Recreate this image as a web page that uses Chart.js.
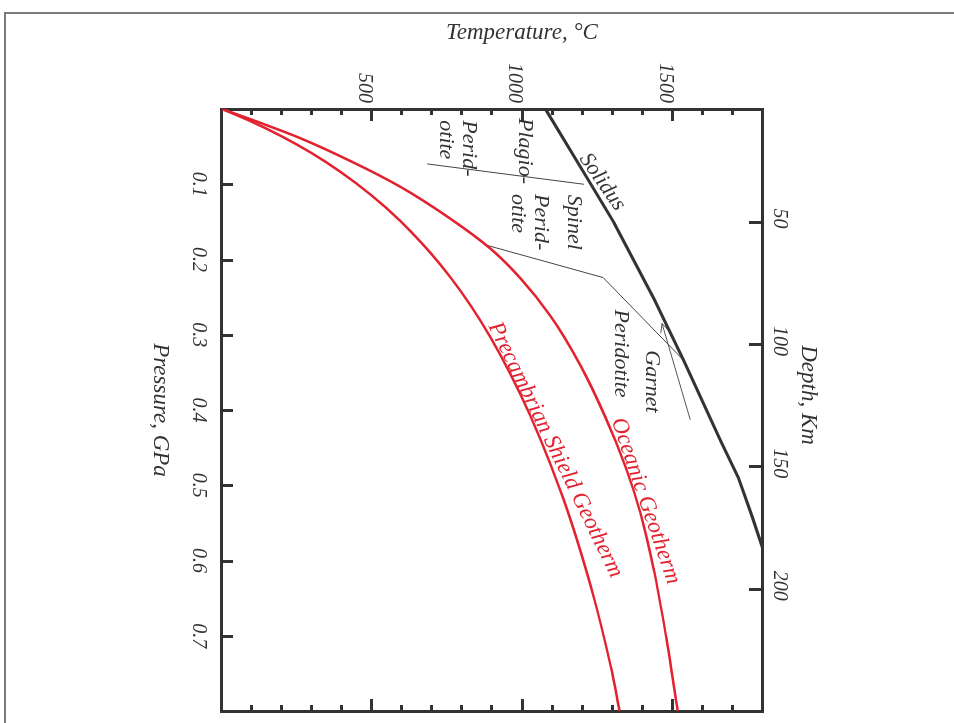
<!DOCTYPE html>
<html>
<head>
<meta charset="utf-8">
<script src="https://cdn.jsdelivr.net/npm/chart.js@4.4.1/dist/chart.umd.min.js"></script>
<style>
  html, body { margin: 0; padding: 0; background: #fff; overflow: hidden; }
  #page { position: relative; width: 954px; height: 723px; overflow: hidden; }
  #frame { position: absolute; left: 4px; top: 12px; width: 1000px; height: 1000px;
           border-left: 2px solid #7a7a7a; border-top: 2px solid #7a7a7a; }
  /* the figure is drawn upright and turned a quarter turn clockwise */
  #chart { position: absolute; left: 0; top: 0; transform-origin: 0 0;
           transform: translate(954px, 0) rotate(90deg); }
</style>
</head>
<body>
<div id="page">
  <div id="frame"></div>
  <canvas id="chart" width="723" height="954"></canvas>
</div>
<script>
// tick labels
const tempTicks = [500, 1000, 1500];
const pressureTicks = [0.1, 0.2, 0.3, 0.4, 0.5, 0.6, 0.7];
const depthTicks = [50, 100, 150, 200];

// curves: pressure (GPa) and temperature (C)
const oceanicP = [0, 0.0185, 0.0389, 0.0693, 0.1036, 0.1459, 0.1855, 0.2251, 0.2752, 0.3412,
                  0.4099, 0.4759, 0.5366, 0.6105, 0.6976, 0.800];
const oceanicT = [0, 128, 261, 428, 594, 760, 893, 993, 1093, 1193,
                  1276, 1343, 1392, 1436, 1476, 1516];

const shieldP = [0, 0.0162, 0.0356, 0.0578, 0.0836, 0.1137, 0.1492, 0.2070, 0.2814, 0.3791,
                 0.5072, 0.6330, 0.7400, 0.800];
const shieldT = [0, 95, 195, 295, 394, 494, 594, 727, 860, 993,
                 1126, 1226, 1293, 1323];

const solidusP = [0, 0.092, 0.151, 0.252, 0.334, 0.441, 0.490, 0.543, 0.585];
const solidusT = [1076, 1215, 1304, 1437, 1536, 1659, 1718, 1765, 1800];

// phase boundaries
const plagSpinelP = [0.073, 0.100];
const plagSpinelT = [683, 1204];
const spinelGarnetP = [0.181, 0.224, 0.334];
const spinelGarnetT = [880, 1268, 1536];
const arrowP = [0.413, 0.285];
const arrowT = [1558, 1464];
const arrowHeadP = [0.298, 0.285, 0.295];
const arrowHeadT = [1460, 1464, 1487];

const RED = '#e3222f';
const INK = '#333';
const SERIF = '"Liberation Serif", "DejaVu Serif", serif';

function pts(ps, ts) {
  return ps.map((p, i) => ({ x: p, y: ts[i] }));
}

function line(data, color, width, smooth) {
  return {
    data: data,
    showLine: true,
    borderColor: color,
    borderWidth: width,
    pointRadius: 0,
    fill: false,
    tension: 0,
    cubicInterpolationMode: smooth ? 'monotone' : 'default'
  };
}

// labels in the plot, at (pressure, temperature); angle in degrees
const notes = [
  { text: 'Solidus', p: 0.097, t: 1265, angle: -35, size: 22, color: INK },
  { text: 'Garnet', p: 0.362, t: 1429, angle: 0, size: 22, color: INK },
  { text: 'Peridotite', p: 0.325, t: 1326, angle: 0, size: 22, color: INK },
  { text: 'Spinel', p: 0.114, t: 1169, angle: 0, size: 22, color: INK, align: 'left' },
  { text: 'Perid-', p: 0.113, t: 1060, angle: 0, size: 22, color: INK, align: 'left' },
  { text: 'otite', p: 0.113, t: 983, angle: 0, size: 22, color: INK, align: 'left' },
  { text: 'Plagio-', p: 0.012, t: 1006, angle: 0, size: 22, color: INK, align: 'left' },
  { text: 'Perid-', p: 0.015, t: 820, angle: 0, size: 22, color: INK, align: 'left' },
  { text: 'otite', p: 0.015, t: 744, angle: 0, size: 22, color: INK, align: 'left' },
  { text: 'Oceanic Geotherm', p: 0.521, t: 1409, angle: -19, size: 23, color: RED },
  { text: 'Precambrian Shield Geotherm', p: 0.453, t: 1109, angle: -26, size: 23, color: RED }
];

const inwardTicks = {
  id: 'inwardTicks',
  afterDraw(chart) {
    const { ctx, chartArea: a, scales } = chart;
    const at = v => Math.round(v) + 0.5;
    ctx.save();
    ctx.strokeStyle = INK;
    ctx.lineWidth = 3;
    ctx.beginPath();
    scales.y.ticks.forEach(t => {
      if (t.value <= 0 || t.value >= 1800) return;
      const len = t.value % 500 === 0 ? 12 : 6;
      const py = at(scales.y.getPixelForValue(t.value));
      ctx.moveTo(a.left, py); ctx.lineTo(a.left + len, py);
      ctx.moveTo(a.right, py); ctx.lineTo(a.right - len, py);
    });
    pressureTicks.forEach(v => {
      const px = at(scales.x.getPixelForValue(v));
      ctx.moveTo(px, a.bottom); ctx.lineTo(px, a.bottom - 11);
    });
    depthTicks.forEach(v => {
      const px = at(scales.x2.getPixelForValue(v));
      ctx.moveTo(px, a.top); ctx.lineTo(px, a.top + 14);
    });
    ctx.stroke();
    ctx.restore();
  }
};

const textNotes = {
  id: 'textNotes',
  afterDraw(chart) {
    const { ctx, scales } = chart;
    ctx.save();
    notes.forEach(n => {
      ctx.save();
      ctx.translate(scales.x.getPixelForValue(n.p), scales.y.getPixelForValue(n.t));
      ctx.rotate(n.angle * Math.PI / 180);
      ctx.font = 'italic ' + n.size + 'px ' + SERIF;
      ctx.fillStyle = n.color;
      ctx.textAlign = n.align || 'center';
      ctx.textBaseline = 'middle';
      ctx.fillText(n.text, 0, 0);
      ctx.restore();
    });
    // axis titles
    ctx.font = 'italic 23px ' + SERIF;
    ctx.fillStyle = INK;
    ctx.textAlign = 'center';
    ctx.textBaseline = 'middle';
    ctx.save();
    ctx.translate(33, 432);
    ctx.rotate(-Math.PI / 2);
    ctx.fillText('Temperature, \u00B0C', 0, 0);
    ctx.restore();
    ctx.fillText('Pressure, GPa', 410, 794);
    ctx.fillText('Depth, Km', 395, 146);
    ctx.restore();
  }
};

const tickFont = { family: SERIF, style: 'italic', size: 20 };

new Chart(document.getElementById('chart'), {
  type: 'scatter',
  data: {
    datasets: [
      line(pts(shieldP, shieldT), RED, 2.5, true),
      line(pts(oceanicP, oceanicT), RED, 2.5, true),
      line(pts(solidusP, solidusT), INK, 3, false),
      line(pts(plagSpinelP, plagSpinelT), '#444', 1, false),
      line(pts(spinelGarnetP, spinelGarnetT), '#444', 1, false),
      line(pts(arrowP, arrowT), '#555', 1, false),
      line(pts(arrowHeadP, arrowHeadT), '#555', 1, false)
    ]
  },
  options: {
    responsive: false,
    animation: false,
    events: [],
    layout: { padding: 0 },
    plugins: { legend: { display: false }, tooltip: { enabled: false } },
    scales: {
      x: {
        type: 'linear', position: 'bottom', min: 0, max: 0.8,
        grid: { display: false, drawTicks: false, lineWidth: 3 },
        border: { display: true, width: 3, color: INK },
        ticks: {
          stepSize: 0.1, autoSkip: false, maxRotation: 0, padding: 12, color: INK, font: tickFont,
          callback: v => {
            const r = Math.round(v * 10) / 10;
            return pressureTicks.includes(r) ? r.toFixed(1) : '';
          }
        },
        afterFit: s => { s.height = 222; }
      },
      x2: {
        type: 'linear', position: 'top', min: 4, max: 250,
        grid: { display: false, drawTicks: false, lineWidth: 3 },
        border: { display: true, width: 3, color: INK },
        ticks: {
          stepSize: 50, autoSkip: false, maxRotation: 0, padding: 4, labelOffset: -3,
          color: INK, font: tickFont,
          callback: v => depthTicks.includes(v) ? String(v) : ''
        },
        afterFit: s => { s.height = 191; }
      },
      y: {
        type: 'linear', position: 'left', min: 0, max: 1800,
        grid: { display: false, drawTicks: false, lineWidth: 3 },
        border: { display: true, width: 3, color: INK },
        ticks: {
          stepSize: 100, autoSkip: false, padding: 6, labelOffset: 8, color: INK, font: tickFont,
          callback: v => tempTicks.includes(v) ? String(v) : ''
        },
        afterFit: s => { s.width = 109; }
      },
      y2: {
        type: 'linear', position: 'right', min: 0, max: 1800,
        grid: { display: false, drawTicks: false, lineWidth: 3 },
        border: { display: true, width: 3, color: INK },
        ticks: { display: false, stepSize: 100 },
        afterFit: s => { s.width = 8; }
      }
    }
  },
  plugins: [inwardTicks, textNotes]
});
</script>
</body>
</html>
